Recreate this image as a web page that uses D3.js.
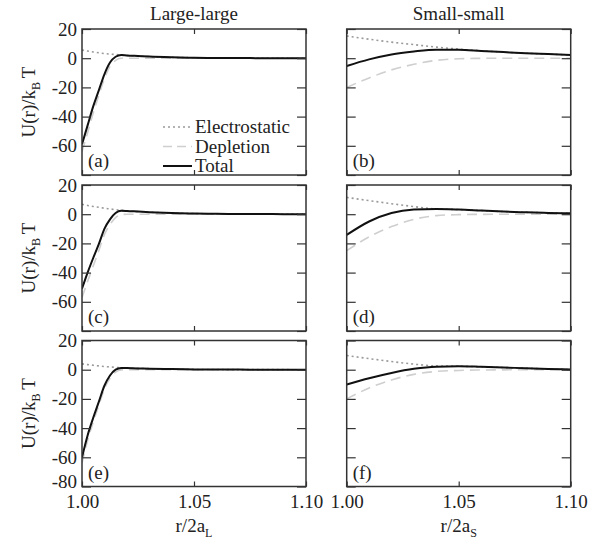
<!DOCTYPE html>
<html>
<head>
<meta charset="utf-8">
<script src="https://cdn.jsdelivr.net/npm/d3@7.9.0/dist/d3.min.js"></script>
<style>
  body { margin: 0; background: #fff; }
  svg, svg text { font-family: "Liberation Serif", "Times New Roman", serif; }
  .tick text { font-size: 19px; fill: #222; }
</style>
</head>
<body>
<div id="chart"></div>
<script>
// x grids
const xLarge = [1.000, 1.0025, 1.005, 1.0075, 1.010, 1.0125, 1.015, 1.0175, 1.020, 1.025, 1.030, 1.040, 1.050, 1.060, 1.070, 1.080, 1.090, 1.100];
const xSmall = [1.00, 1.01, 1.02, 1.03, 1.04, 1.05, 1.06, 1.07, 1.08, 1.09, 1.10];

// large-large panels (a), (c), (e)
const elecA = [5.6, 4.9, 4.3, 3.7, 3.2, 2.8, 2.5, 2.2, 1.9, 1.5, 1.1, 0.6, 0.3, 0.15, 0.08, 0.04, 0.02, 0.01];
const deplA = [-64, -51, -37.5, -25.5, -14, -5.5, -1.5, 0, 0, 0, 0, 0, 0, 0, 0, 0, 0, 0];
const totA  = [-59, -46, -33, -22, -11, -3, 1.0, 2.2, 1.9, 1.5, 1.1, 0.6, 0.3, 0.15, 0.08, 0.04, 0.02, 0.01];

const elecC = [6.8, 6.0, 5.3, 4.7, 4.1, 3.6, 3.1, 2.7, 2.3, 1.8, 1.4, 0.8, 0.45, 0.25, 0.14, 0.08, 0.04, 0.02];
const deplC = [-57, -46, -35.5, -25, -14, -7, -2.3, -0.3, 0, 0, 0, 0, 0, 0, 0, 0, 0, 0];
const totC  = [-51, -40, -30, -20.5, -10, -3.5, 0.8, 2.3, 2.2, 1.8, 1.4, 0.8, 0.45, 0.25, 0.14, 0.08, 0.04, 0.02];

const elecE = [4.0, 3.5, 3.0, 2.6, 2.2, 1.9, 1.6, 1.3, 1.1, 0.9, 0.7, 0.4, 0.2, 0.1, 0.06, 0.03, 0.02, 0.01];
const deplE = [-64, -48.5, -36, -24.6, -13.2, -5.9, -1.6, -0.1, 0, 0, 0, 0, 0, 0, 0, 0, 0, 0];
const totE  = [-60, -45, -33, -22, -11, -4, 0, 1.2, 1.1, 0.9, 0.7, 0.4, 0.2, 0.1, 0.06, 0.03, 0.02, 0.01];

// small-small panels (b), (d), (f)
const elecB = [15.2, 13.0, 11.0, 9.3, 7.6, 6.2, 5.1, 4.2, 3.4, 2.8, 2.2];
const deplB = [-20.0, -13.5, -8.0, -4.2, -1.5, -0.4, -0.1, 0, 0, 0, 0];
const totB  = [-5.3, -0.8, 2.6, 4.6, 5.8, 5.8, 5.0, 4.2, 3.4, 2.8, 2.2];

const elecD = [11.5, 9.3, 7.2, 5.2, 3.6, 3.2, 2.5, 1.8, 1.3, 0.9, 0.6];
const deplD = [-25, -15.5, -8.5, -3.5, -1.0, -0.3, -0.1, 0, 0, 0, 0];
const totD  = [-14.2, -5.0, 0.8, 3.2, 3.6, 3.2, 2.5, 1.8, 1.3, 0.9, 0.6];

const elecF = [9.7, 7.6, 5.6, 3.8, 2.6, 2.4, 2.0, 1.5, 1.0, 0.5, 0.1];
const deplF = [-20, -12.5, -7.0, -3.2, -1.2, -0.5, -0.2, -0.1, 0, 0, 0];
const totF  = [-10.1, -5.8, -2.2, 0.6, 2.1, 2.4, 2.0, 1.5, 1.0, 0.5, 0.1];

const yTicks = [20, 0, -20, -40, -60, -80];
const xTicks = [1.00, 1.05, 1.10];
const panelLabels = ['(a)', '(b)', '(c)', '(d)', '(e)', '(f)'];
const colTitles = ['Large-large', 'Small-small'];
const legendNames = ['Electrostatic', 'Depletion', 'Total'];

const panels = [
  { col: 0, row: 0, x: xLarge, elec: elecA, depl: deplA, tot: totA },
  { col: 1, row: 0, x: xSmall, elec: elecB, depl: deplB, tot: totB },
  { col: 0, row: 1, x: xLarge, elec: elecC, depl: deplC, tot: totC },
  { col: 1, row: 1, x: xSmall, elec: elecD, depl: deplD, tot: totD },
  { col: 0, row: 2, x: xLarge, elec: elecE, depl: deplE, tot: totE },
  { col: 1, row: 2, x: xSmall, elec: elecF, depl: deplF, tot: totF },
];

const width = 607, height = 541;
const colLeft = [82, 346.7];
const rowTop = [29, 185, 340.5];
const pw = 224, ph = 146;

const styles = {
  elec: { stroke: '#9a9a9a', width: 1.6, dash: '2,3' },
  depl: { stroke: '#cfcfcf', width: 1.6, dash: '10,6' },
  tot:  { stroke: '#111', width: 2, dash: null },
};

const svg = d3.select('#chart').append('svg')
  .attr('width', width).attr('height', height);

const xScale = d3.scaleLinear().domain([1.0, 1.1]).range([0, pw]);
const yScale = d3.scaleLinear().domain([-80, 20]).range([ph, 0]);

panels.forEach((p, i) => {
  const g = svg.append('g')
    .attr('transform', `translate(${colLeft[p.col]},${rowTop[p.row]})`);

  const clipId = 'clip' + i;
  g.append('clipPath').attr('id', clipId)
    .append('rect').attr('width', pw).attr('height', ph);

  const line = d3.line()
    .x(d => xScale(d[0]))
    .y(d => yScale(d[1]))
    .curve(d3.curveMonotoneX);

  const curves = g.append('g').attr('clip-path', `url(#${clipId})`);
  ['depl', 'elec', 'tot'].forEach(key => {
    const s = styles[key];
    curves.append('path')
      .datum(p.x.map((xv, j) => [xv, p[key][j]]))
      .attr('d', line)
      .attr('fill', 'none')
      .attr('stroke', s.stroke)
      .attr('stroke-width', s.width)
      .attr('stroke-dasharray', s.dash);
  });

  // axes with inward ticks
  const left = g.append('g')
    .call(d3.axisLeft(yScale).tickValues(yTicks).tickSize(-9).tickPadding(5)
      .tickFormat(d => {
        if (p.col !== 0) return '';
        if (d === -80 && p.row !== 2) return '';
        return d;
      }));
  left.selectAll('.tick').filter(d => d === -80).select('text').attr('y', -5);

  const right = g.append('g').attr('transform', `translate(${pw},0)`)
    .call(d3.axisRight(yScale).tickValues(yTicks).tickSize(-9).tickFormat(''));
  const top = g.append('g')
    .call(d3.axisTop(xScale).tickValues(xTicks).tickSize(-5).tickFormat(''));
  const bottom = g.append('g').attr('transform', `translate(0,${ph})`)
    .call(d3.axisBottom(xScale).tickValues(xTicks).tickSize(-5).tickPadding(8)
      .tickFormat(p.row === 2 ? d3.format('.2f') : ''));

  [left, right, top, bottom].forEach(a => {
    a.attr('font-family', null).attr('font-size', null);
    a.select('.domain').remove();
    a.selectAll('.tick line').attr('stroke', '#333').attr('stroke-width', 1.2);
  });

  g.append('rect')
    .attr('width', pw).attr('height', ph)
    .attr('fill', 'none').attr('stroke', '#333').attr('stroke-width', 1.5);

  g.append('text')
    .attr('x', 6).attr('y', ph - 8)
    .attr('font-size', 19).attr('fill', '#222')
    .text(panelLabels[i]);

  if (p.col === 0) {
    const lab = svg.append('text')
      .attr('transform', `translate(35,${rowTop[p.row] + ph / 2}) rotate(-90)`)
      .attr('text-anchor', 'middle')
      .attr('font-size', 19).attr('fill', '#222');
    lab.append('tspan').text('U(r)/k');
    lab.append('tspan').attr('font-size', 12).attr('dy', 5).text('B');
    lab.append('tspan').attr('dy', -5).text('\u2009T');
  }

  if (i === 0) {
    const lg = g.append('g').attr('transform', 'translate(81,98)');
    ['elec', 'depl', 'tot'].forEach((key, k) => {
      const s = styles[key];
      lg.append('line')
        .attr('x1', 0).attr('x2', 29)
        .attr('y1', k * 19.5).attr('y2', k * 19.5)
        .attr('stroke', s.stroke).attr('stroke-width', s.width)
        .attr('stroke-dasharray', key === 'depl' ? '9,5' : s.dash);
      lg.append('text')
        .attr('x', 32).attr('y', k * 19.5 + 6)
        .attr('font-size', 19).attr('fill', '#222')
        .text(legendNames[k]);
    });
  }
});

colTitles.forEach((t, c) => {
  svg.append('text')
    .attr('x', colLeft[c] + pw / 2).attr('y', 20)
    .attr('text-anchor', 'middle')
    .attr('font-size', 19).attr('fill', '#222')
    .text(t);
});

const xLabelSubs = ['L', 'S'];
xLabelSubs.forEach((s, c) => {
  const t = svg.append('text')
    .attr('x', colLeft[c] + pw / 2).attr('y', 532)
    .attr('text-anchor', 'middle')
    .attr('font-size', 19).attr('fill', '#222');
  t.append('tspan').text('r/2a');
  t.append('tspan').attr('font-size', 12).attr('dy', 5).text(s);
});
</script>
</body>
</html>
